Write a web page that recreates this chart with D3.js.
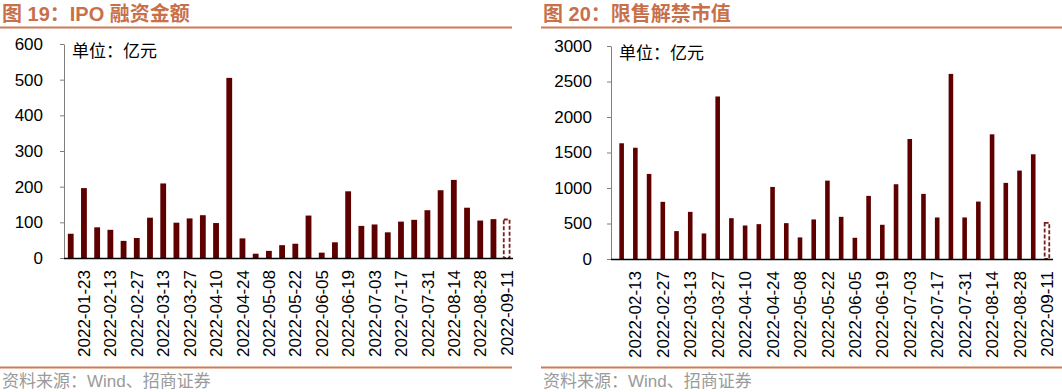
<!DOCTYPE html>
<html><head><meta charset="utf-8">
<script src="https://cdn.jsdelivr.net/npm/d3@7/dist/d3.min.js"></script>
<style>
html,body{margin:0;padding:0;background:#fff;}
svg{display:block;}
</style></head>
<body>
<svg id="c" width="1062" height="392"></svg>
<script>
// ---------- data ----------
const ipoDates = ["2022-01-16","2022-01-23","2022-01-30","2022-02-13","2022-02-20","2022-02-27","2022-03-06","2022-03-13","2022-03-20","2022-03-27","2022-04-03","2022-04-10","2022-04-17","2022-04-24","2022-05-01","2022-05-08","2022-05-15","2022-05-22","2022-05-29","2022-06-05","2022-06-12","2022-06-19","2022-06-26","2022-07-03","2022-07-10","2022-07-17","2022-07-24","2022-07-31","2022-08-07","2022-08-14","2022-08-21","2022-08-28","2022-09-04","2022-09-11"];
const ipoValues = [68,196,86,79,48,56,113,209,99,111,120,98,505,55,12,20,36,40,119,15,44,187,90,94,72,102,107,134,190,219,141,105,109,108];
const ipoTicks = [0,100,200,300,400,500,600];

const unlockDates = ["2022-02-06","2022-02-13","2022-02-20","2022-02-27","2022-03-06","2022-03-13","2022-03-20","2022-03-27","2022-04-03","2022-04-10","2022-04-17","2022-04-24","2022-05-01","2022-05-08","2022-05-15","2022-05-22","2022-05-29","2022-06-05","2022-06-12","2022-06-19","2022-06-26","2022-07-03","2022-07-10","2022-07-17","2022-07-24","2022-07-31","2022-08-07","2022-08-14","2022-08-21","2022-08-28","2022-09-04","2022-09-11"];
const unlockValues = [1630,1567,1198,805,393,664,360,2289,575,472,491,1015,505,304,557,1104,594,299,889,482,1053,1690,917,585,2607,585,809,1756,1072,1245,1475,510];
const unlockTicks = [0,500,1000,1500,2000,2500,3000];

const estimatedDate = "2022-09-11"; // drawn dashed
const unitLabel = "单位：亿元";
const source = "资料来源：Wind、招商证券";

// ---------- drawing ----------
const svg = d3.select("#c");
const TITLE_C = "#C8704A", LINE_C = "#D07A55", BAR_C = "#5E0000";
const NUM_FONT = "'Liberation Sans', Arial, sans-serif";
const CJK_FONT = "'Liberation Sans', 'Noto Sans CJK SC', sans-serif";

function panel(o) {
  const g = svg.append("g");
  // title
  g.append("text").attr("x", o.px + 2).attr("y", 21)
    .attr("font-family", CJK_FONT).attr("font-weight", "bold").attr("font-size", 20)
    .attr("fill", TITLE_C).text(o.title);
  g.append("line").attr("x1", o.px).attr("x2", o.pr).attr("y1", 27.5).attr("y2", 27.5)
    .attr("stroke", LINE_C).attr("stroke-width", 2.2);
  g.append("line").attr("x1", o.px).attr("x2", o.pr).attr("y1", 367.5).attr("y2", 367.5)
    .attr("stroke", LINE_C).attr("stroke-width", 2.2);
  g.append("text").attr("x", o.px + 2).attr("y", 387)
    .attr("font-family", CJK_FONT).attr("font-size", 17)
    .attr("fill", "#9a9a9a").text(source);

  const x = d3.scaleBand().domain(o.dates).range([o.x0, o.x1])
    .paddingInner(o.pad).paddingOuter(o.outer).align(o.align);
  const y = d3.scaleLinear().domain([0, o.ticks[o.ticks.length - 1]]).range([o.y0, o.y1]);

  // y axis
  const ya = g.append("g").attr("transform", `translate(${o.x0},0)`)
    .call(d3.axisLeft(y).tickValues(o.ticks).tickFormat(d3.format("d"))
      .tickSizeInner(4).tickSizeOuter(0).tickPadding(o.tp));
  ya.select(".domain").attr("stroke", "#7f7f7f").attr("stroke-width", 1);
  ya.selectAll(".tick line").attr("stroke", "#7f7f7f");
  ya.selectAll(".tick text").attr("font-family", NUM_FONT).attr("font-size", 17).attr("fill", "#000");

  // bars
  g.selectAll("rect.bar").data(o.dates.map((d, i) => ({d, v: o.values[i]})))
    .enter().append("rect")
    .attr("x", d => x(d.d)).attr("width", x.bandwidth())
    .attr("y", d => y(d.v)).attr("height", d => y(0) - y(d.v))
    .attr("fill", d => d.d === estimatedDate ? "#fff" : BAR_C)
    .attr("stroke", d => d.d === estimatedDate ? "#7a1f1f" : "none")
    .attr("stroke-width", 1.8)
    .attr("stroke-dasharray", d => d.d === estimatedDate ? "4,2" : null);

  // x axis
  const xa = g.append("g").attr("transform", `translate(0,${o.y0})`)
    .call(d3.axisBottom(x).tickValues(o.dates.filter((d, i) => i % 2 === 1)).tickSize(0).tickSizeOuter(0));
  xa.select(".domain").remove();
  g.append("line").attr("x1", o.x0).attr("x2", o.xEnd).attr("y1", o.y0 + 0.5).attr("y2", o.y0 + 0.5)
    .attr("stroke", "#000").attr("stroke-width", 1.3);
  xa.selectAll(".tick text")
    .attr("font-family", NUM_FONT).attr("font-size", 17).attr("fill", "#000")
    .attr("transform", "rotate(-90)").attr("text-anchor", "end")
    .attr("x", -12).attr("y", 0).attr("dy", "0.36em");

  // unit label
  g.append("text").attr("x", o.x0 + 8).attr("y", o.y1 + 13)
    .attr("font-family", "'Noto Sans CJK SC', sans-serif").attr("font-size", 17)
    .attr("fill", "#000").text(unitLabel);
}

panel({title: "图 19：IPO 融资金额", px: 0, pr: 512, x0: 64, x1: 513.4, xEnd: 513,
  y0: 258, y1: 44, dates: ipoDates, values: ipoValues, ticks: ipoTicks,
  pad: 0.56, outer: 0.29, align: 0.5, tp: 17});
panel({title: "图 20：限售解禁市值", px: 541, pr: 1062, x0: 611, x1: 1053, xEnd: 1053,
  y0: 259, y1: 46, dates: unlockDates, values: unlockValues, ticks: unlockTicks,
  pad: 0.665, outer: 0.44, align: 0.69, tp: 15});
</script>
</body></html>
